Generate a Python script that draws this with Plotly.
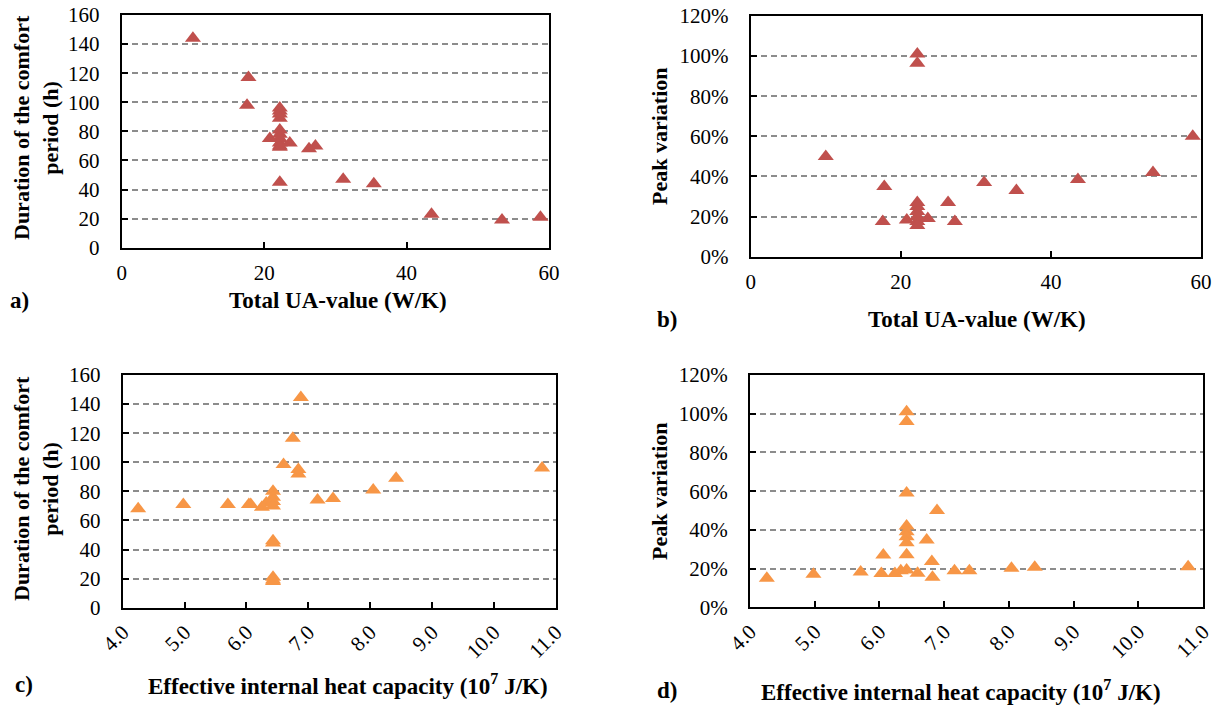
import plotly.graph_objects as go

# ---------------- data ----------------
# Panel a: total UA-value (W/K) vs duration of the comfort period (h)
ua_a = [10.0, 17.8, 17.6, 20.8, 22.2, 22.2, 22.2, 22.2, 22.2, 22.2, 22.2, 22.2,
        22.2, 22.2, 22.2, 23.6, 26.3, 27.2, 31.1, 35.4, 43.5, 53.4, 58.8]
dur_a = [144, 117, 98, 75, 96, 94, 92, 89, 81, 78, 75, 72,
         70, 69, 45, 72, 68, 70, 47, 44, 23, 19, 21]

# Panel b: total UA-value (W/K) vs peak variation
ua_b = [10.0, 17.8, 17.6, 20.8, 22.2, 22.2, 22.2, 22.2, 22.2, 22.2, 22.2, 22.2,
        23.6, 26.3, 27.2, 31.1, 35.4, 43.6, 53.6, 58.9]
peak_b = [0.50, 0.35, 0.175, 0.183, 1.01, 0.965, 0.27, 0.25, 0.225, 0.20, 0.175, 0.155,
          0.19, 0.27, 0.175, 0.37, 0.33, 0.385, 0.42, 0.60]

# Panel c: effective internal heat capacity (1e7 J/K) vs duration (h)
cap_c = [4.25, 4.98, 5.70, 6.04, 6.07, 6.25, 6.32, 6.43, 6.43, 6.43, 6.43, 6.43,
         6.43, 6.43, 6.43, 6.43, 6.60, 6.75, 6.84, 6.84, 6.88, 7.15, 7.40, 8.05,
         8.42, 10.78]
dur_c = [68, 71, 71, 71, 71, 69, 72, 80, 76, 73, 70, 46,
         44.5, 21, 19, 18, 98.5, 116.5, 95, 92, 144.5, 74, 75, 81,
         89, 96]

# Panel d: effective internal heat capacity (1e7 J/K) vs peak variation
cap_d = [4.26, 4.98, 5.71, 6.03, 6.06, 6.24, 6.33, 6.42, 6.42, 6.42, 6.42, 6.42,
         6.42, 6.42, 6.42, 6.42, 6.59, 6.73, 6.81, 6.82, 6.89, 7.16, 7.39, 8.04,
         8.40, 10.77]
peak_d = [0.15, 0.171, 0.182, 0.174, 0.27, 0.174, 0.189, 0.193, 1.01, 0.96, 0.59, 0.42,
          0.39, 0.365, 0.334, 0.272, 0.176, 0.348, 0.236, 0.155, 0.50, 0.189, 0.189, 0.202,
          0.207, 0.21]

RED = "#C0504D"
ORANGE = "#F79646"
OFF = 8                      # default page body margin (top/left)
W, H = 1222 - OFF, 708 - OFF
FONT = "Liberation Serif"
MSIZE = 14
TICK = 21
TITLE = 23

fig = go.Figure()
fig.add_trace(go.Scatter(x=ua_a, y=dur_a, mode="markers", xaxis="x", yaxis="y",
                         marker=dict(symbol="triangle-up", size=MSIZE, color=RED)))
fig.add_trace(go.Scatter(x=ua_b, y=peak_b, mode="markers", xaxis="x2", yaxis="y2",
                         marker=dict(symbol="triangle-up", size=MSIZE, color=RED)))
fig.add_trace(go.Scatter(x=cap_c, y=dur_c, mode="markers", xaxis="x3", yaxis="y3",
                         marker=dict(symbol="triangle-up", size=MSIZE, color=ORANGE)))
fig.add_trace(go.Scatter(x=cap_d, y=peak_d, mode="markers", xaxis="x4", yaxis="y4",
                         marker=dict(symbol="triangle-up", size=MSIZE, color=ORANGE)))


def px_dom(x0, x1):
    return [(x0 - OFF) / W, (x1 - OFF) / W]


def py_dom(top, bottom):
    return [1 - (bottom - OFF) / H, 1 - (top - OFF) / H]


common_x = dict(showline=True, mirror=True, linecolor="black", linewidth=2,
                ticks="inside", ticklen=6, tickwidth=1.5, tickcolor="black",
                showgrid=False, zeroline=False, automargin=False,
                ticklabeloverflow="allow",
                tickfont=dict(family=FONT, size=TICK, color="black"))
common_y = dict(showline=True, mirror=True, linecolor="black", linewidth=2,
                ticks="inside", ticklen=6, tickwidth=1.5, tickcolor="black",
                showgrid=True, gridcolor="#8c8c8c", gridwidth=1.5, griddash="6px,4px",
                zeroline=False, ticklabelstandoff=16, automargin=False,
                ticklabeloverflow="allow",
                tickfont=dict(family=FONT, size=TICK, color="black"))

layout = dict(
    width=W, height=H, margin=dict(l=0, r=0, t=0, b=0, pad=0, autoexpand=False),
    paper_bgcolor="white", plot_bgcolor="white", showlegend=False,
    font=dict(family=FONT, color="black"),
    xaxis=dict(common_x, domain=px_dom(121.7, 549), anchor="y", range=[0, 60], dtick=20,
               ticklabelstandoff=5),
    yaxis=dict(common_y, domain=py_dom(15, 247.7), anchor="x", range=[0, 160], dtick=20),
    xaxis2=dict(common_x, domain=px_dom(750.7, 1201), anchor="y2", range=[0, 60], dtick=20,
                ticklabelstandoff=5),
    yaxis2=dict(common_y, domain=py_dom(16, 256.7), anchor="x2", range=[0, 1.2], dtick=0.2,
                tickformat=".0%"),
    xaxis3=dict(common_x, domain=px_dom(122.7, 555.7), anchor="y3", range=[4, 11], dtick=1,
                tickformat=".1f", tickangle=-45, ticklabelstandoff=2),
    yaxis3=dict(common_y, domain=py_dom(375, 607.7), anchor="x3", range=[0, 160], dtick=20),
    xaxis4=dict(common_x, domain=px_dom(750, 1203), anchor="y4", range=[4, 11], dtick=1,
                tickformat=".1f", tickangle=-45, ticklabelstandoff=2),
    yaxis4=dict(common_y, domain=py_dom(375, 607.3), anchor="x4", range=[0, 1.2], dtick=0.2,
                tickformat=".0%"),
)
fig.update_layout(**layout)


def ann(text, x, y, angle=0, size=TITLE):
    fig.add_annotation(text=text, x=(x - OFF) / W, y=1 - (y - OFF) / H,
                       xref="paper", yref="paper",
                       showarrow=False, xanchor="center", yanchor="middle",
                       textangle=angle,
                       font=dict(family=FONT, size=size, color="black"))


dur_title = "<b>Duration of the comfort<br>period (h)</b>"
ann(dur_title, 36, 128, -90, 22)
ann("<b>Peak variation</b>", 660, 136, -90, 22)
ann(dur_title, 36, 489, -90, 22)
ann("<b>Peak variation</b>", 660, 491, -90, 22)

ann("<b>Total UA-value (W/K)</b>", 338, 300)
ann("<b>a)</b>", 20, 300)
ann("<b>Total UA-value (W/K)</b>", 977, 319)
ann("<b>b)</b>", 667, 319)
ann("<b>Effective internal heat capacity (10<sup>7</sup> J/K)</b>", 348, 684)
ann("<b>c)</b>", 24, 684)
ann("<b>Effective internal heat capacity (10<sup>7</sup> J/K)</b>", 961, 690)
ann("<b>d)</b>", 667, 690)

fig.write_html("out.html")
